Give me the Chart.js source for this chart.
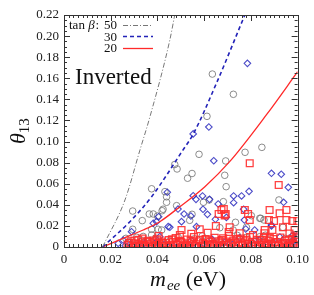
<!DOCTYPE html>
<html>
<head>
<meta charset="utf-8">
<script src="https://cdn.jsdelivr.net/npm/chart.js@4.4.0/dist/chart.umd.min.js"></script>
<style>
  html, body { margin: 0; padding: 0; background: #fff; }
  canvas { display: block; }
</style>
</head>
<body>
<canvas id="chart" width="314" height="295"></canvas>
<script>
// tan(beta) bound curves
const tanBetaLabels = ['50', '30', '20'];
const curve50 = [[0.0165, 0], [0.0261, 0.0446], [0.0325, 0.0919], [0.0368, 0.1236], [0.0453, 0.1963], [0.0474, 0.22]];
const curve30 = [[0.0165, 0], [0.0282, 0.024], [0.0375, 0.0477], [0.0509, 0.0919], [0.0553, 0.107], [0.0652, 0.155], [0.0774, 0.22]];
const curve20 = [[0.0165, 0], [0.0253, 0.0082], [0.0339, 0.0161], [0.041, 0.024], [0.0496, 0.0382], [0.0603, 0.0572],
  [0.0709, 0.0809], [0.0866, 0.1252], [0.1, 0.1662]];

// scan points, tan(beta) = 50 (grey circles)
const pts50 = [
  [0.0635, 0.164], [0.0725, 0.1448], [0.0612, 0.1239], [0.0847, 0.0945], [0.0775, 0.0898], [0.0578, 0.0879],
  [0.0692, 0.0816], [0.0474, 0.0782], [0.0484, 0.074], [0.0548, 0.0697], [0.0529, 0.0652], [0.0694, 0.0572],
  [0.0688, 0.068], [0.0375, 0.0552], [0.0432, 0.0525], [0.0439, 0.0476], [0.0597, 0.0424], [0.0682, 0.043],
  [0.0621, 0.0446], [0.092, 0.0446], [0.0439, 0.0424], [0.0482, 0.0392], [0.0424, 0.0358], [0.042, 0.0344],
  [0.0294, 0.0341], [0.0365, 0.0313], [0.0382, 0.0313], [0.0548, 0.031], [0.04, 0.0294], [0.0802, 0.0297],
  [0.0842, 0.0272], [0.0856, 0.0256], [0.0838, 0.0272], [0.0538, 0.0253], [0.0335, 0.025], [0.0734, 0.0234],
  [0.0937, 0.0187], [0.0667, 0.0183], [0.0781, 0.0187], [0.0403, 0.0168], [0.0375, 0.0168], [0.0294, 0.0168],
  [0.0418, 0.0161], [0.0724, 0.0161], [0.0375, 0.0114], [0.0339, 0.01], [0.0311, 0.0092], [0.0265, 0.0082],
  [0.0838, 0.0098], [0.0781, 0.0092], [0.098, 0.0098],
  [0.0275, 0.0045], [0.0302, 0.0022], [0.0332, 0.006], [0.0362, 0.0035], [0.0392, 0.0085], [0.0422, 0.0015],
  [0.0452, 0.0058], [0.0488, 0.0095], [0.0522, 0.003], [0.0558, 0.0078], [0.0592, 0.0105], [0.0628, 0.0025],
  [0.0668, 0.0068], [0.0705, 0.0042], [0.0742, 0.011], [0.0785, 0.0028], [0.0822, 0.0062], [0.0862, 0.0112],
  [0.0905, 0.0035], [0.0948, 0.0082], [0.0985, 0.0045]
];

// tan(beta) = 30 (blue diamonds)
const pts30 = [
  [0.0785, 0.1742], [0.062, 0.1138], [0.0553, 0.1072], [0.0641, 0.0818], [0.0888, 0.0699], [0.093, 0.069],
  [0.096, 0.0566], [0.0792, 0.0528], [0.0442, 0.0519], [0.0553, 0.0486], [0.0593, 0.0484], [0.0726, 0.0484],
  [0.076, 0.0484], [0.0565, 0.0452], [0.0623, 0.0452], [0.0726, 0.042], [0.094, 0.0424], [0.066, 0.0408],
  [0.0488, 0.036], [0.0595, 0.0358], [0.0769, 0.0358], [0.0514, 0.0313], [0.0614, 0.031], [0.0543, 0.0294],
  [0.0405, 0.0287], [0.0695, 0.0281], [0.0648, 0.0263], [0.0772, 0.0256], [0.0503, 0.024], [0.0396, 0.024],
  [0.0382, 0.0225], [0.0888, 0.0209], [0.0888, 0.0199], [0.0446, 0.0193], [0.0567, 0.0193], [0.0453, 0.0187],
  [0.0778, 0.0171], [0.0816, 0.0161], [0.0289, 0.0145], [0.098, 0.0114], [0.0994, 0.0104], [0.041, 0.0098],
  [0.0253, 0.0066], [0.0232, 0.0035],
  [0.0262, 0.0012], [0.0285, 0.0028], [0.0318, 0.0015], [0.0345, 0.0035], [0.0372, 0.001], [0.0395, 0.0048],
  [0.0428, 0.0022], [0.0455, 0.0008], [0.0482, 0.0042], [0.0515, 0.0018], [0.0545, 0.0062], [0.0572, 0.0012],
  [0.0598, 0.0035], [0.0633, 0.0075], [0.0662, 0.0015], [0.069, 0.0048], [0.0722, 0.0025], [0.0752, 0.0088],
  [0.0778, 0.0012], [0.0808, 0.0038], [0.0836, 0.0068], [0.0865, 0.0018], [0.0895, 0.0045], [0.0924, 0.0095],
  [0.0952, 0.0022], [0.0978, 0.0058], [0.0995, 0.0015]
];

// tan(beta) = 20 (red squares)
const pts20 = [
  [0.0795, 0.0794], [0.0919, 0.0588], [0.0684, 0.036], [0.0674, 0.0351], [0.0774, 0.0351], [0.088, 0.0351],
  [0.0952, 0.0351], [0.0692, 0.0313], [0.0662, 0.0313], [0.0788, 0.0313], [0.0923, 0.032], [0.0688, 0.03],
  [0.0795, 0.0256], [0.0877, 0.0256], [0.0952, 0.0256], [0.0899, 0.0247], [0.0977, 0.0247], [0.0999, 0.0247],
  [0.065, 0.0199], [0.0709, 0.0187], [0.0937, 0.0187], [0.0503, 0.0161], [0.0581, 0.0168], [0.0859, 0.0161],
  [0.0892, 0.0161], [0.0987, 0.0161], [0.0496, 0.0114], [0.0752, 0.013], [0.0809, 0.0114], [0.0545, 0.0125],
  [0.0615, 0.0135], [0.0705, 0.0142], [0.0858, 0.013], [0.0965, 0.0128], [0.0405, 0.0105], [0.0335, 0.008],
  [0.0272, 0.002], [0.0285, 0.0055], [0.0296, 0.001], [0.0305, 0.0035], [0.0318, 0.0068], [0.0326, 0.0015],
  [0.0338, 0.0045], [0.0349, 0.0008], [0.0357, 0.006], [0.0366, 0.0025], [0.0378, 0.0042], [0.0389, 0.0012],
  [0.0398, 0.0072], [0.0407, 0.003], [0.0418, 0.0052], [0.0426, 0.001], [0.0437, 0.0038], [0.0448, 0.0065],
  [0.0456, 0.0018], [0.0467, 0.0048], [0.0478, 0.0085], [0.0486, 0.0022], [0.0497, 0.0058], [0.0508, 0.001],
  [0.0516, 0.0035], [0.0527, 0.007], [0.0538, 0.0015], [0.0547, 0.0045], [0.0556, 0.0095], [0.0566, 0.0025],
  [0.0577, 0.0055], [0.0586, 0.0008], [0.0595, 0.0038], [0.0606, 0.0075], [0.0615, 0.0018], [0.0626, 0.005],
  [0.0636, 0.0028], [0.0645, 0.0088], [0.0654, 0.001], [0.0665, 0.0042], [0.0676, 0.0065], [0.0684, 0.002],
  [0.0695, 0.0052], [0.0706, 0.0105], [0.0714, 0.003], [0.0725, 0.0062], [0.0736, 0.0012], [0.0745, 0.0045],
  [0.0756, 0.008], [0.0765, 0.002], [0.0776, 0.0055], [0.0787, 0.0032], [0.0796, 0.0095], [0.0805, 0.001],
  [0.0816, 0.0048], [0.0826, 0.0068], [0.0835, 0.0022], [0.0846, 0.0042], [0.0856, 0.0085], [0.0866, 0.0012],
  [0.0876, 0.0058], [0.0885, 0.003], [0.0896, 0.0075], [0.0905, 0.0015], [0.0916, 0.0048], [0.0926, 0.009],
  [0.0935, 0.0025], [0.0946, 0.0062], [0.0956, 0.001], [0.0966, 0.004], [0.0976, 0.0078], [0.0985, 0.002],
  [0.0994, 0.0052], [0.0998, 0.0112],
  [0.0279, 0.0038], [0.0301, 0.0062], [0.0322, 0.0028], [0.0343, 0.0018], [0.0362, 0.0048], [0.0383, 0.0062],
  [0.0402, 0.0018], [0.0422, 0.0035], [0.0442, 0.0012], [0.0462, 0.0072], [0.0481, 0.0035], [0.0502, 0.0045],
  [0.0521, 0.0022], [0.0542, 0.0058], [0.0561, 0.0012], [0.0582, 0.0068], [0.0601, 0.0028], [0.0621, 0.0062],
  [0.0641, 0.0015], [0.0661, 0.0055], [0.0681, 0.0082], [0.0701, 0.0018], [0.0721, 0.0042], [0.0741, 0.0075],
  [0.0761, 0.0035], [0.0781, 0.0068], [0.0801, 0.0025], [0.0821, 0.0012], [0.0841, 0.0065], [0.0861, 0.0035],
  [0.0881, 0.0088], [0.0901, 0.0045], [0.0921, 0.0012], [0.0941, 0.0038], [0.0961, 0.0068], [0.0981, 0.0032],
  [0.0996, 0.0082]
];

const SERIF = '"Liberation Serif", "DejaVu Serif", serif';
const toXY = arr => arr.map(p => ({ x: p[0], y: p[1] }));

// inward ticks on all four sides + frame + texts
const frameTicks = {
  id: 'frameTicks',
  afterDraw(chart) {
    const { ctx, chartArea: a, scales: { x, y } } = chart;
    ctx.save();
    ctx.strokeStyle = '#333';
    ctx.lineWidth = 1;
    ctx.beginPath();
    for (let i = 0; i <= 50; i++) {
      const px = Math.round(x.getPixelForValue(i * 0.002)) + 0.5;
      const len = i % 10 === 0 ? 6 : 3;
      ctx.moveTo(px, a.bottom); ctx.lineTo(px, a.bottom - len);
      ctx.moveTo(px, a.top); ctx.lineTo(px, a.top + len);
    }
    for (let i = 0; i <= 44; i++) {
      const py = Math.round(y.getPixelForValue(i * 0.005)) + 0.5;
      const len = i % 4 === 0 ? 6 : 3;
      ctx.moveTo(a.left, py); ctx.lineTo(a.left + len, py);
      ctx.moveTo(a.right, py); ctx.lineTo(a.right - len, py);
    }
    ctx.stroke();
    ctx.strokeRect(Math.round(a.left) + 0.5, Math.round(a.top) + 0.5,
      Math.round(a.right - a.left), Math.round(a.bottom - a.top));

    ctx.fillStyle = '#111';
    ctx.textBaseline = 'alphabetic';

    // x axis title: m_ee (eV)
    let cx = 150, by = 286;
    ctx.font = 'italic 22px ' + SERIF;
    ctx.textAlign = 'left';
    ctx.fillText('m', cx, by);
    cx += ctx.measureText('m').width + 1;
    ctx.font = 'italic 15px ' + SERIF;
    ctx.fillText('ee', cx, by + 4);
    cx += ctx.measureText('ee').width;
    ctx.font = '22px ' + SERIF;
    ctx.fillText(' (eV)', cx, by);

    // y axis title: theta_13
    ctx.save();
    ctx.translate(25, 144);
    ctx.rotate(-Math.PI / 2);
    ctx.font = 'italic 22px ' + SERIF;
    ctx.fillText('\u03b8', 0, 0);
    const tw = ctx.measureText('\u03b8').width;
    ctx.font = '15px ' + SERIF;
    ctx.fillText('13', tw, 4);
    ctx.restore();

    // "Inverted"
    ctx.font = '23px ' + SERIF;
    ctx.fillText('Inverted', 75, 84);

    // legend
    ctx.font = '13px ' + SERIF;
    ctx.fillText('tan ', 69, 28.5);
    let lx = 69 + ctx.measureText('tan ').width;
    ctx.font = 'italic 13px ' + SERIF;
    ctx.fillText('\u03b2', lx, 28.5);
    lx += ctx.measureText('\u03b2').width;
    ctx.font = '13px ' + SERIF;
    ctx.fillText(':', lx + 1, 28.5);
    ctx.textAlign = 'right';
    tanBetaLabels.forEach((lab, i) => {
      const ds = chart.data.datasets[i];
      const ly = 24.5 + i * 11.6;
      ctx.fillStyle = '#111';
      ctx.fillText(lab, 117, ly + 4.5);
      ctx.beginPath();
      ctx.setLineDash(ds.borderDash || []);
      ctx.strokeStyle = ds.borderColor;
      ctx.lineWidth = ds.borderWidth;
      ctx.moveTo(123, Math.round(ly) + 0.5);
      ctx.lineTo(153, Math.round(ly) + 0.5);
      ctx.stroke();
    });
    ctx.setLineDash([]);
    ctx.restore();
  }
};

new Chart(document.getElementById('chart'), {
  type: 'scatter',
  data: {
    datasets: [
      { type: 'line', label: '50', data: toXY(curve50), borderColor: '#777', borderWidth: 1,
        borderDash: [5, 2, 1, 2], pointRadius: 0, cubicInterpolationMode: 'monotone', fill: false },
      { type: 'line', label: '30', data: toXY(curve30), borderColor: '#2323b8', borderWidth: 1.6,
        borderDash: [4, 3], pointRadius: 0, cubicInterpolationMode: 'monotone', fill: false },
      { type: 'line', label: '20', data: toXY(curve20), borderColor: '#ff2a2a', borderWidth: 1.3,
        pointRadius: 0, cubicInterpolationMode: 'monotone', fill: false },
      { label: 'pts20', data: toXY(pts20), pointStyle: 'rect', pointRadius: 4.8,
        borderColor: 'rgba(255,45,45,0.9)', backgroundColor: 'rgba(255,255,255,0)', borderWidth: 1.3 },
      { label: 'pts30', data: toXY(pts30), pointStyle: 'rectRot', pointRadius: 3.3,
        borderColor: 'rgba(45,45,190,0.85)', backgroundColor: 'rgba(255,255,255,0)', borderWidth: 1.1 },
      { label: 'pts50', data: toXY(pts50), pointStyle: 'circle', pointRadius: 3.3,
        borderColor: 'rgba(120,120,120,0.85)', backgroundColor: 'rgba(255,255,255,0)', borderWidth: 1 }
    ]
  },
  options: {
    responsive: false,
    animation: false,
    devicePixelRatio: 1,
    layout: { padding: { left: 0, right: 16, top: 15, bottom: 0 } },
    plugins: { legend: { display: false }, tooltip: { enabled: false } },
    scales: {
      x: {
        type: 'linear', min: 0, max: 0.1,
        ticks: { stepSize: 0.02, padding: 5, maxRotation: 0, color: '#222', font: { family: SERIF, size: 13 } },
        grid: { display: false, drawTicks: false },
        border: { display: false },
        afterFit: s => { s.height = 48; }
      },
      y: {
        type: 'linear', min: 0, max: 0.22,
        ticks: { stepSize: 0.02, padding: 5, color: '#222', font: { family: SERIF, size: 13 } },
        grid: { display: false, drawTicks: false },
        border: { display: false },
        afterFit: s => { s.width = 64; }
      }
    }
  },
  plugins: [frameTicks]
});
</script>
</body>
</html>
